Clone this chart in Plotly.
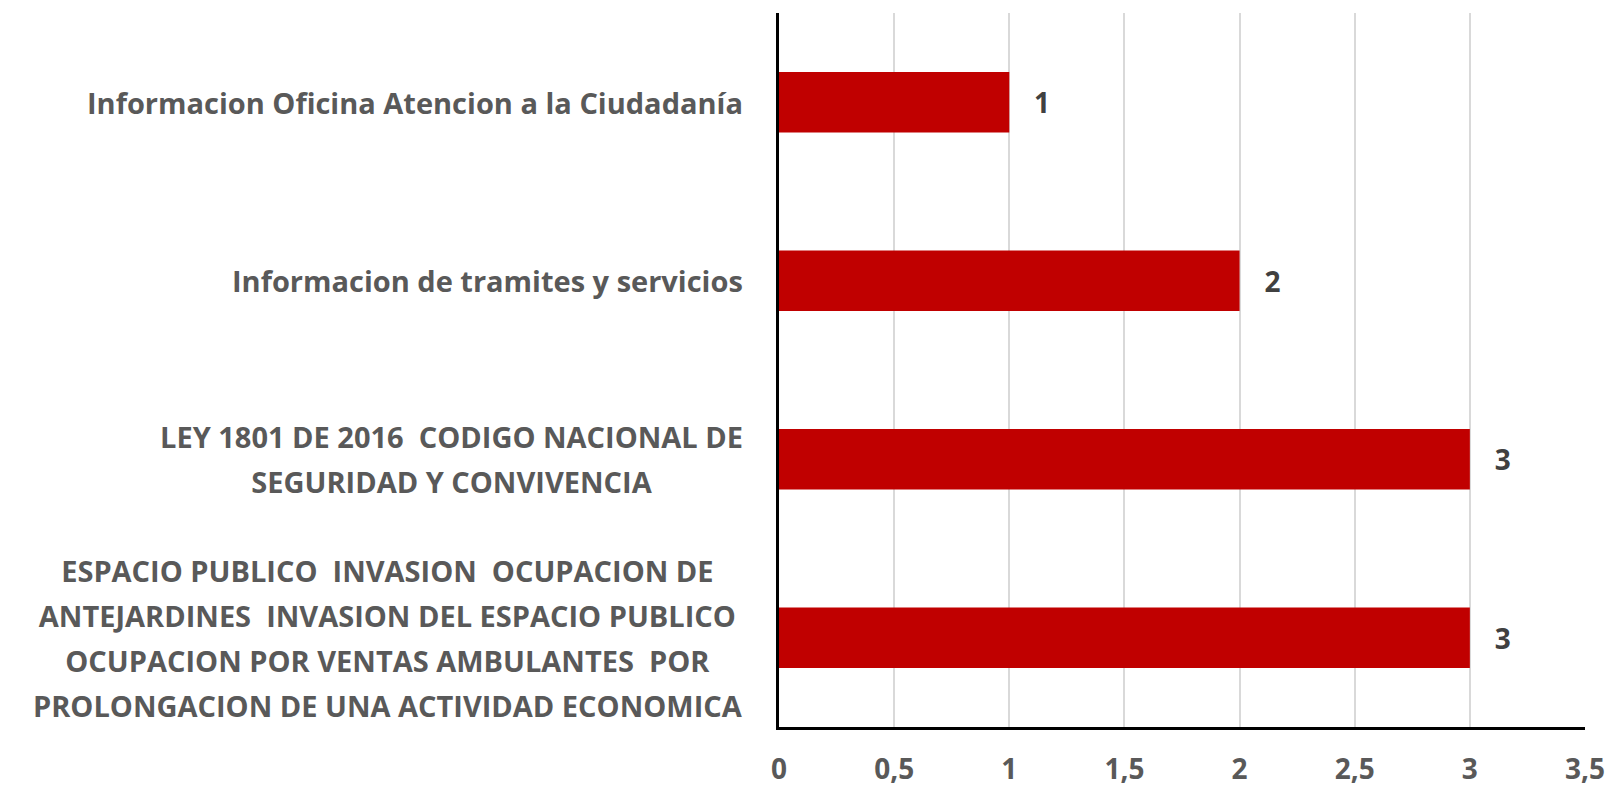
import plotly.graph_objects as go

categories = [
    "ESPACIO PUBLICO&nbsp; INVASION&nbsp; OCUPACION DE<br>ANTEJARDINES&nbsp; INVASION DEL ESPACIO PUBLICO<br>OCUPACION POR VENTAS AMBULANTES&nbsp; POR<br>PROLONGACION DE UNA ACTIVIDAD ECONOMICA",
    "LEY 1801 DE 2016&nbsp; CODIGO NACIONAL DE<br>SEGURIDAD Y CONVIVENCIA",
    "Informacion de tramites y servicios",
    "Informacion Oficina Atencion a la Ciudadanía",
]
values = [3, 3, 2, 1]
x_ticks = [0, 0.5, 1, 1.5, 2, 2.5, 3, 3.5]

FONT = "Open Sans"
GRAY = "#595959"
LABEL_SIZE = 29

fig = go.Figure()
fig.add_trace(go.Bar(
    y=list(range(len(categories))),
    x=values,
    orientation="h",
    marker=dict(color="#C00000", line=dict(width=0)),
    text=values,
    texttemplate="\u00a0\u00a0\u00a0%{x}",
    textposition="outside",
    textfont=dict(family=FONT, size=28, color="#404040", weight="bold"),
    cliponaxis=False,
))

for i, c in enumerate(categories):
    lines = c.split("<br>")
    txt = "<br>".join(
        f"<span style='font-size:{LABEL_SIZE}px;font-weight:bold'>{ln}</span>" for ln in lines
    )
    fig.add_annotation(
        x=0, y=i, xref="x", yref="y",
        text=txt, showarrow=False,
        xanchor="right", yanchor="middle", align="center",
        xshift=-34,
        font=dict(family=FONT, size=34.5, color=GRAY, weight="bold"),
    )

fig.update_layout(
    width=1611, height=788,
    margin=dict(l=779, r=26, t=13, b=61),
    paper_bgcolor="white", plot_bgcolor="white",
    separators=",.",
    bargap=0.66,
    showlegend=False,
)
fig.update_xaxes(
    range=[0, 3.5], tickvals=x_ticks,
    showgrid=True, gridcolor="#D9D9D9", gridwidth=2,
    showline=True, linecolor="black", linewidth=3,
    zeroline=False, ticks="", automargin=False,
    ticklabelstandoff=15,
    tickfont=dict(family=FONT, size=28, color=GRAY, weight="bold"),
)
fig.update_yaxes(
    range=[-0.5, len(categories) - 0.5],
    showticklabels=False, showgrid=False,
    showline=True, linecolor="black", linewidth=3,
    zeroline=False, ticks="", automargin=False,
)

fig.write_html("out.html", config={"displayModeBar": False},
               post_script="document.body.style.margin='0';")
